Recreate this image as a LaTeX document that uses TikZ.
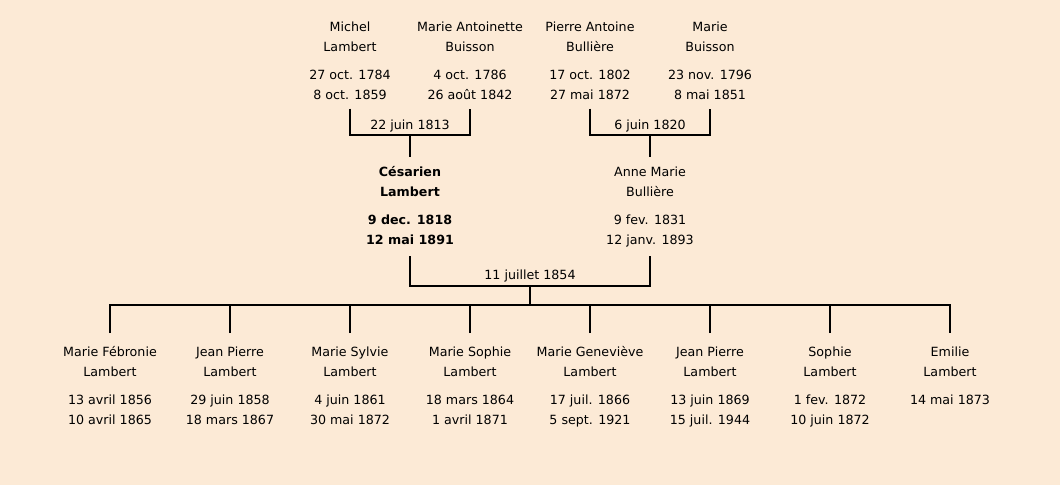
\documentclass[tikz,border=0pt]{standalone}
\usepackage{fontspec}
\setmainfont{DejaVu Sans}
\definecolor{paper}{RGB}{252,234,214}
\newcommand{\person}[4]{\strut#1\\#2\\[5.7pt]#3\\#4\strut}

\begin{document}
\begin{tikzpicture}[x=0.025cm, y=-0.025cm,
    person/.style={align=center, anchor=north, inner xsep=0pt, inner ysep=1.8pt,
      font=\fontsize{9}{14.2}\selectfont},
    parent/.style={person, inner ysep=3.9pt},
    child/.style={person, inner ysep=6.8pt},
    wedding/.style={anchor=base, inner sep=0pt, font=\fontsize{9}{14.2}\selectfont},
    link/.style={line width=1.4pt}]
  \fill[paper] (0,0) rectangle (1060,485);

  % Grandparents
  \node[person] (michel) at (350,15) {\person{Michel}{Lambert}{27 oct. 1784}{8 oct. 1859}};
  \node[person] (antoinette) at (470,15) {\person{Marie Antoinette}{Buisson}{4 oct. 1786}{26 août 1842}};
  \node[person] (pierre) at (590,15) {\person{Pierre Antoine}{Bullière}{17 oct. 1802}{27 mai 1872}};
  \node[person] (marie) at (710,15) {\person{Marie}{Buisson}{23 nov. 1796}{8 mai 1851}};

  \coordinate (w1) at (410,135);
  \coordinate (w2) at (650,135);
  \node[wedding] (d1) at (410,129.5) {22 juin 1813};
  \node[wedding] (d2) at (650,129.5) {6 juin 1820};

  % Parents
  \node[parent, font=\fontsize{9}{14.2}\selectfont\bfseries] (cesarien) at (410,157)
    {\person{Césarien}{Lambert}{9 dec. 1818}{12 mai 1891}};
  \node[parent] (annemarie) at (650,157) {\person{Anne Marie}{Bullière}{9 fev. 1831}{12 janv. 1893}};

  \coordinate (w3) at (530,286);
  \coordinate (bar) at (530,305);
  \node[wedding] (d3) at (530,279.5) {11 juillet 1854};

  % Children
  \node[child] (c1) at (110,333) {\person{Marie Fébronie}{Lambert}{13 avril 1856}{10 avril 1865}};
  \node[child] (c2) at (230,333) {\person{Jean Pierre}{Lambert}{29 juin 1858}{18 mars 1867}};
  \node[child] (c3) at (350,333) {\person{Marie Sylvie}{Lambert}{4 juin 1861}{30 mai 1872}};
  \node[child] (c4) at (470,333) {\person{Marie Sophie}{Lambert}{18 mars 1864}{1 avril 1871}};
  \node[child] (c5) at (590,333) {\person{Marie Geneviève}{Lambert}{17 juil. 1866}{5 sept. 1921}};
  \node[child] (c6) at (710,333) {\person{Jean Pierre}{Lambert}{13 juin 1869}{15 juil. 1944}};
  \node[child] (c7) at (830,333) {\person{Sophie}{Lambert}{1 fev. 1872}{10 juin 1872}};
  \node[child] (c8) at (950,333) {\person{Emilie}{Lambert}{14 mai 1873}{}};

  % Links
  \draw[link] (michel.south) |- (w1) -| (antoinette.south);
  \draw[link] (pierre.south) |- (w2) -| (marie.south);
  \draw[link] (w1) -- (cesarien.north);
  \draw[link] (w2) -- (annemarie.north);
  \draw[link] (cesarien.south) |- (w3) -| (annemarie.south);
  \draw[link] (w3) -- (bar);
  \draw[link] (c1.north) |- (bar) -| (c8.north);
  \draw[link] (c2.north) -- (c2.north |- bar);
  \draw[link] (c3.north) -- (c3.north |- bar);
  \draw[link] (c4.north) -- (c4.north |- bar);
  \draw[link] (c5.north) -- (c5.north |- bar);
  \draw[link] (c6.north) -- (c6.north |- bar);
  \draw[link] (c7.north) -- (c7.north |- bar);
\end{tikzpicture}
\end{document}
